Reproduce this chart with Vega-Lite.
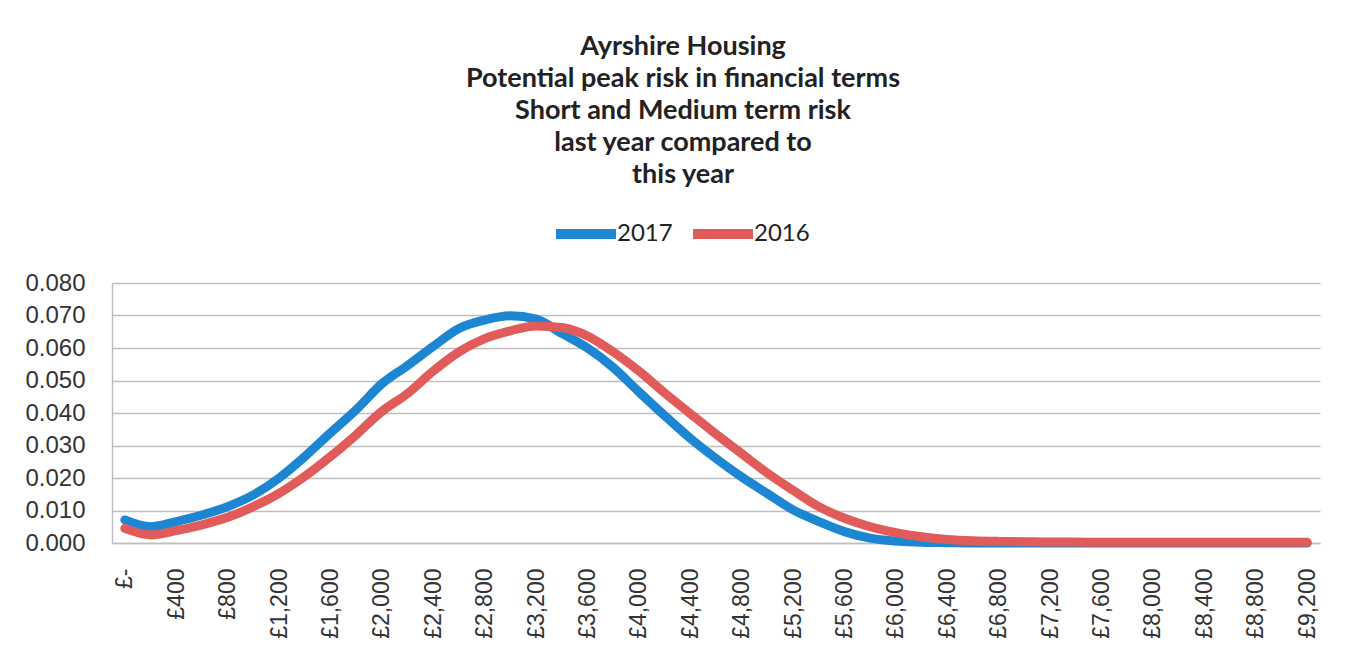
{
  "$schema": "https://vega.github.io/schema/vega-lite/v6.json",
  "width": 1208,
  "height": 260,
  "autosize": {"type": "none"},
  "padding": {"left": 112, "top": 283, "right": 31, "bottom": 115},
  "background": "white",
  "title": {
    "text": ["Ayrshire Housing", "Potential peak risk in financial terms", "Short and Medium term risk", "last year compared to", "this year"],
    "font": "Lato",
    "fontSize": 27,
    "fontWeight": "bold",
    "lineHeight": 32,
    "color": "#222222",
    "anchor": "middle",
    "dx": -33,
    "offset": 10
  },
  "data": {
    "values": [
      {"amount": 0, "year": "2017", "value": 0.0071},
      {"amount": 200, "year": "2017", "value": 0.0050},
      {"amount": 400, "year": "2017", "value": 0.0066},
      {"amount": 600, "year": "2017", "value": 0.0086},
      {"amount": 800, "year": "2017", "value": 0.0112},
      {"amount": 1000, "year": "2017", "value": 0.0148},
      {"amount": 1200, "year": "2017", "value": 0.0200},
      {"amount": 1400, "year": "2017", "value": 0.0266},
      {"amount": 1600, "year": "2017", "value": 0.0339},
      {"amount": 1800, "year": "2017", "value": 0.0410},
      {"amount": 2000, "year": "2017", "value": 0.0490},
      {"amount": 2200, "year": "2017", "value": 0.0546},
      {"amount": 2400, "year": "2017", "value": 0.0605},
      {"amount": 2600, "year": "2017", "value": 0.0660},
      {"amount": 2800, "year": "2017", "value": 0.0686},
      {"amount": 3000, "year": "2017", "value": 0.0699},
      {"amount": 3200, "year": "2017", "value": 0.0689},
      {"amount": 3400, "year": "2017", "value": 0.0645},
      {"amount": 3600, "year": "2017", "value": 0.0600},
      {"amount": 3800, "year": "2017", "value": 0.0540},
      {"amount": 4000, "year": "2017", "value": 0.0465},
      {"amount": 4200, "year": "2017", "value": 0.0392},
      {"amount": 4400, "year": "2017", "value": 0.0322},
      {"amount": 4600, "year": "2017", "value": 0.0260},
      {"amount": 4800, "year": "2017", "value": 0.0203},
      {"amount": 5000, "year": "2017", "value": 0.0152},
      {"amount": 5200, "year": "2017", "value": 0.0102},
      {"amount": 5400, "year": "2017", "value": 0.0066},
      {"amount": 5600, "year": "2017", "value": 0.0035},
      {"amount": 5800, "year": "2017", "value": 0.0015},
      {"amount": 6000, "year": "2017", "value": 0.0006},
      {"amount": 6200, "year": "2017", "value": 0.0002},
      {"amount": 6400, "year": "2017", "value": 0.0001},
      {"amount": 6600, "year": "2017", "value": 0},
      {"amount": 6800, "year": "2017", "value": 0},
      {"amount": 7000, "year": "2017", "value": 0},
      {"amount": 7200, "year": "2017", "value": 0},
      {"amount": 7400, "year": "2017", "value": 0},
      {"amount": 7600, "year": "2017", "value": 0},
      {"amount": 7800, "year": "2017", "value": 0},
      {"amount": 8000, "year": "2017", "value": 0},
      {"amount": 8200, "year": "2017", "value": 0},
      {"amount": 8400, "year": "2017", "value": 0},
      {"amount": 8600, "year": "2017", "value": 0},
      {"amount": 8800, "year": "2017", "value": 0},
      {"amount": 9000, "year": "2017", "value": 0},
      {"amount": 9200, "year": "2017", "value": 0},
      {"amount": 0, "year": "2016", "value": 0.0045},
      {"amount": 200, "year": "2016", "value": 0.0025},
      {"amount": 400, "year": "2016", "value": 0.0038},
      {"amount": 600, "year": "2016", "value": 0.0056},
      {"amount": 800, "year": "2016", "value": 0.0079},
      {"amount": 1000, "year": "2016", "value": 0.0112},
      {"amount": 1200, "year": "2016", "value": 0.0153},
      {"amount": 1400, "year": "2016", "value": 0.0205},
      {"amount": 1600, "year": "2016", "value": 0.0266},
      {"amount": 1800, "year": "2016", "value": 0.0333},
      {"amount": 2000, "year": "2016", "value": 0.0405},
      {"amount": 2200, "year": "2016", "value": 0.0460},
      {"amount": 2400, "year": "2016", "value": 0.0529},
      {"amount": 2600, "year": "2016", "value": 0.0588},
      {"amount": 2800, "year": "2016", "value": 0.0629},
      {"amount": 3000, "year": "2016", "value": 0.0653},
      {"amount": 3200, "year": "2016", "value": 0.0668},
      {"amount": 3400, "year": "2016", "value": 0.0663},
      {"amount": 3600, "year": "2016", "value": 0.0637},
      {"amount": 3800, "year": "2016", "value": 0.0588},
      {"amount": 4000, "year": "2016", "value": 0.0529},
      {"amount": 4200, "year": "2016", "value": 0.0462},
      {"amount": 4400, "year": "2016", "value": 0.0398},
      {"amount": 4600, "year": "2016", "value": 0.0335},
      {"amount": 4800, "year": "2016", "value": 0.0275},
      {"amount": 5000, "year": "2016", "value": 0.0215},
      {"amount": 5200, "year": "2016", "value": 0.0162},
      {"amount": 5400, "year": "2016", "value": 0.0112},
      {"amount": 5600, "year": "2016", "value": 0.0076},
      {"amount": 5800, "year": "2016", "value": 0.0050},
      {"amount": 6000, "year": "2016", "value": 0.0032},
      {"amount": 6200, "year": "2016", "value": 0.0019},
      {"amount": 6400, "year": "2016", "value": 0.0011},
      {"amount": 6600, "year": "2016", "value": 0.0007},
      {"amount": 6800, "year": "2016", "value": 0.0005},
      {"amount": 7000, "year": "2016", "value": 0.0004},
      {"amount": 7200, "year": "2016", "value": 0.0003},
      {"amount": 7400, "year": "2016", "value": 0.0003},
      {"amount": 7600, "year": "2016", "value": 0.0002},
      {"amount": 7800, "year": "2016", "value": 0.0002},
      {"amount": 8000, "year": "2016", "value": 0.0002},
      {"amount": 8200, "year": "2016", "value": 0.0002},
      {"amount": 8400, "year": "2016", "value": 0.0002},
      {"amount": 8600, "year": "2016", "value": 0.0002},
      {"amount": 8800, "year": "2016", "value": 0.0002},
      {"amount": 9000, "year": "2016", "value": 0.0002},
      {"amount": 9200, "year": "2016", "value": 0.0002}
    ]
  },
  "mark": {"type": "line", "interpolate": "monotone", "strokeWidth": 9, "strokeCap": "round", "strokeJoin": "round"},
  "encoding": {
    "x": {
      "field": "amount",
      "type": "quantitative",
      "scale": {"domain": [-100, 9300], "nice": false, "zero": false},
      "axis": {
        "title": null,
        "values": [0, 400, 800, 1200, 1600, 2000, 2400, 2800, 3200, 3600, 4000, 4400, 4800, 5200, 5600, 6000, 6400, 6800, 7200, 7600, 8000, 8400, 8800, 9200],
        "labelExpr": "datum.value == 0 ? '£-' : '£' + format(datum.value, ',')",
        "labelAngle": -90,
        "labelAlign": "right",
        "labelBaseline": "middle",
        "labelFont": "Liberation Sans",
        "labelFontSize": 23,
        "labelColor": "#333333",
        "labelPadding": 25,
        "labelOverlap": false,
        "labelFlush": false,
        "ticks": false,
        "grid": false,
        "domain": true,
        "domainColor": "#bfbfbf",
        "domainWidth": 1.5
      }
    },
    "y": {
      "field": "value",
      "type": "quantitative",
      "scale": {"domain": [0, 0.08], "nice": false},
      "axis": {
        "title": null,
        "values": [0, 0.01, 0.02, 0.03, 0.04, 0.05, 0.06, 0.07, 0.08],
        "format": ".3f",
        "labelFont": "Liberation Sans",
        "labelFontSize": 24,
        "labelColor": "#333333",
        "labelPadding": 27,
        "labelFlush": false,
        "labelOverlap": false,
        "ticks": false,
        "grid": true,
        "gridColor": "#bfbfbf",
        "gridWidth": 1.5,
        "domain": true,
        "domainColor": "#bfbfbf",
        "domainWidth": 1.5
      }
    },
    "color": {
      "field": "year",
      "type": "nominal",
      "scale": {"domain": ["2017", "2016"], "range": ["#1d86d3", "#e25b5b"]},
      "legend": {
        "title": null,
        "orient": "none",
        "legendX": 439,
        "legendY": -84,
        "direction": "horizontal",
        "symbolType": "stroke",
        "symbolSize": 3600,
        "symbolStrokeWidth": 10,
        "labelFont": "Lato",
        "labelFontSize": 24,
        "labelColor": "#222222",
        "labelOffset": -4,
        "columnPadding": 0,
        "padding": 0
      }
    }
  },
  "config": {
    "view": {"stroke": null}
  }
}
